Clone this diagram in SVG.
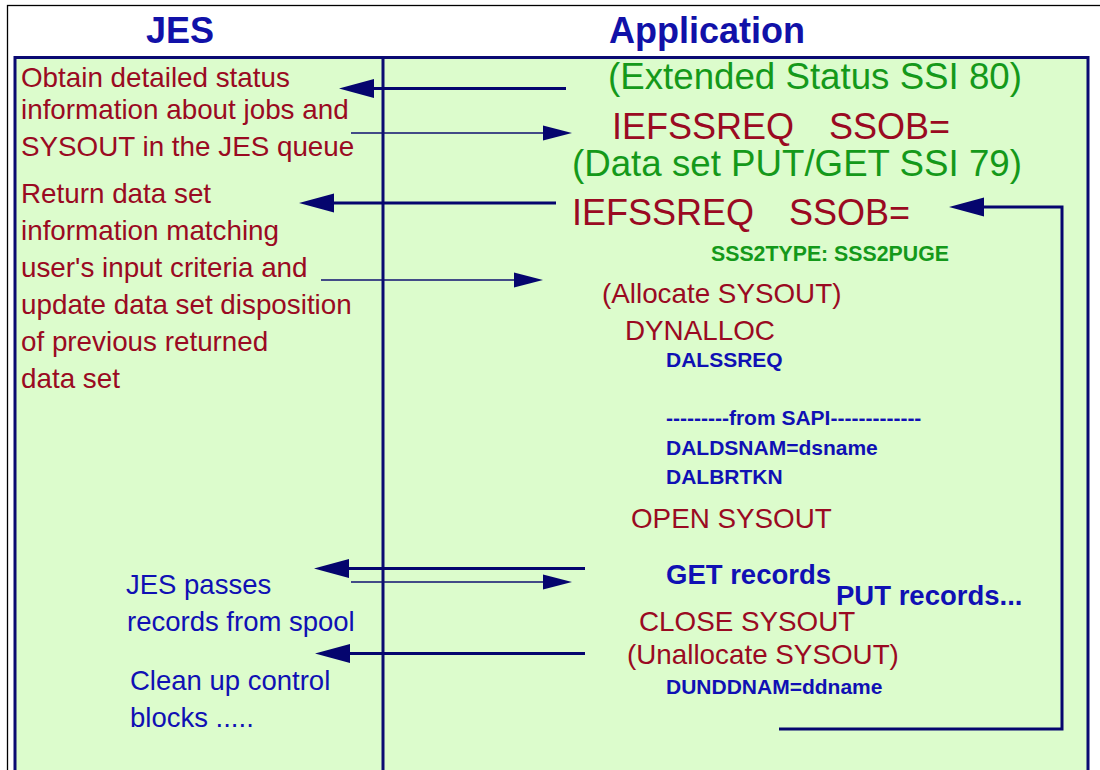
<svg xmlns="http://www.w3.org/2000/svg" width="1100" height="770" viewBox="0 0 1100 770">
<defs>
<style>
text{font-family:"Liberation Sans",Arial,Helvetica,sans-serif}
.hdr{font-size:36px;font-weight:bold;fill:#1111a8}
.red{font-size:27.8px;fill:#9a0a22}
.redL{font-size:36px;fill:#9a0a22}
.grn{font-size:36.7px;fill:#14991a}
.grnB{font-size:21.3px;font-weight:bold;fill:#14991a}
.bluB{font-size:21px;font-weight:bold;fill:#1010b4}
.bluBL{font-size:27.5px;font-weight:bold;fill:#1010b4}
.blu{font-size:27.5px;fill:#1010b4}
.thick{stroke:#05056e;stroke-width:3;fill:none}
.thin{stroke:#101070;stroke-width:1.6;fill:none}
</style>
<marker id="bigHead" markerUnits="userSpaceOnUse" markerWidth="36" markerHeight="20" refX="0" refY="9.5" orient="auto" overflow="visible">
<path d="M0,0 L35,9.5 L0,19 Z" fill="#05056e"/>
</marker>
<marker id="thinHead" markerUnits="userSpaceOnUse" markerWidth="30" markerHeight="16" refX="0" refY="7.5" orient="auto" overflow="visible">
<path d="M0,0 L29,7.5 L0,15 Z" fill="#05056e"/>
</marker>
</defs>
<rect x="0" y="0" width="1100" height="770" fill="#ffffff"/>
<rect x="7.5" y="5.5" width="1110" height="800" fill="#ffffff" stroke="#000000" stroke-width="1.3"/>
<g id="jes-header"><text class="hdr" x="180" y="43" text-anchor="middle">JES</text></g>
<g id="app-header"><text class="hdr" x="609" y="43">Application</text></g>
<g id="frame">
<rect x="15" y="57.5" width="1073" height="760" fill="#dcfccc" stroke="#0a0a72" stroke-width="3"/>
<line x1="383" y1="57" x2="383" y2="780" stroke="#0a0a72" stroke-width="3"/>
</g>
<g id="jes-status">
<text class="red" x="21" y="87">Obtain detailed status</text>
<text class="red" x="21" y="119">information about jobs and</text>
<text class="red" x="21" y="156">SYSOUT in the JES queue</text>
</g>
<g id="jes-return">
<text class="red" x="21" y="203">Return data set</text>
<text class="red" x="21" y="240">information matching</text>
<text class="red" x="21" y="277">user's input criteria and</text>
<text class="red" x="21" y="314">update data set disposition</text>
<text class="red" x="21" y="351">of previous returned</text>
<text class="red" x="21" y="388">data set</text>
</g>
<g id="jes-passes">
<text class="blu" x="126" y="594">JES passes</text>
<text class="blu" x="127" y="631">records from spool</text>
</g>
<g id="jes-cleanup">
<text class="blu" x="130" y="690">Clean up control</text>
<text class="blu" x="130" y="727">blocks .....</text>
</g>
<g id="app-ssi80">
<text class="grn" x="608" y="89">(Extended Status SSI 80)</text>
<text class="redL" x="612" y="139">IEFSSREQ</text>
<text class="redL" x="829" y="139">SSOB=</text>
</g>
<g id="app-ssi79">
<text class="grn" x="572" y="176">(Data set PUT/GET SSI 79)</text>
<text class="redL" x="572" y="225">IEFSSREQ</text>
<text class="redL" x="789" y="225">SSOB=</text>
<text class="grnB" x="711" y="261">SSS2TYPE: SSS2PUGE</text>
</g>
<g id="app-alloc">
<text class="red" x="602" y="303">(Allocate SYSOUT)</text>
<text class="red" x="625" y="340">DYNALLOC</text>
<text class="bluB" x="666" y="367">DALSSREQ</text>
<text class="bluB" x="666" y="425">---------from SAPI-------------</text>
<text class="bluB" x="666" y="455">DALDSNAM=dsname</text>
<text class="bluB" x="666" y="484">DALBRTKN</text>
</g>
<g id="app-open"><text class="red" x="631" y="528">OPEN SYSOUT</text></g>
<g id="app-get"><text class="bluBL" x="666" y="584">GET records</text></g>
<g id="app-put"><text class="bluBL" x="836" y="605">PUT records...</text></g>
<g id="app-close">
<text class="red" x="639" y="631">CLOSE SYSOUT</text>
<text class="red" x="627" y="664">(Unallocate SYSOUT)</text>
<text class="bluB" x="666" y="694">DUNDDNAM=ddname</text>
</g>
<g id="connectors">
<line class="thick" x1="566" y1="88.5" x2="374" y2="88.5" marker-end="url(#bigHead)"/>
<line class="thin" x1="351" y1="133" x2="543" y2="133" marker-end="url(#thinHead)"/>
<line class="thick" x1="556" y1="203" x2="334" y2="203" marker-end="url(#bigHead)"/>
<line class="thin" x1="321" y1="280" x2="514" y2="280" marker-end="url(#thinHead)"/>
<polyline class="thick" points="779,729 1062,729 1062,207 984,207" marker-end="url(#bigHead)"/>
<line class="thick" x1="585" y1="568.5" x2="349" y2="568.5" marker-end="url(#bigHead)"/>
<line class="thin" x1="351" y1="582" x2="543" y2="582" marker-end="url(#thinHead)"/>
<line class="thick" x1="585" y1="653.5" x2="350" y2="653.5" marker-end="url(#bigHead)"/>
</g>
</svg>
